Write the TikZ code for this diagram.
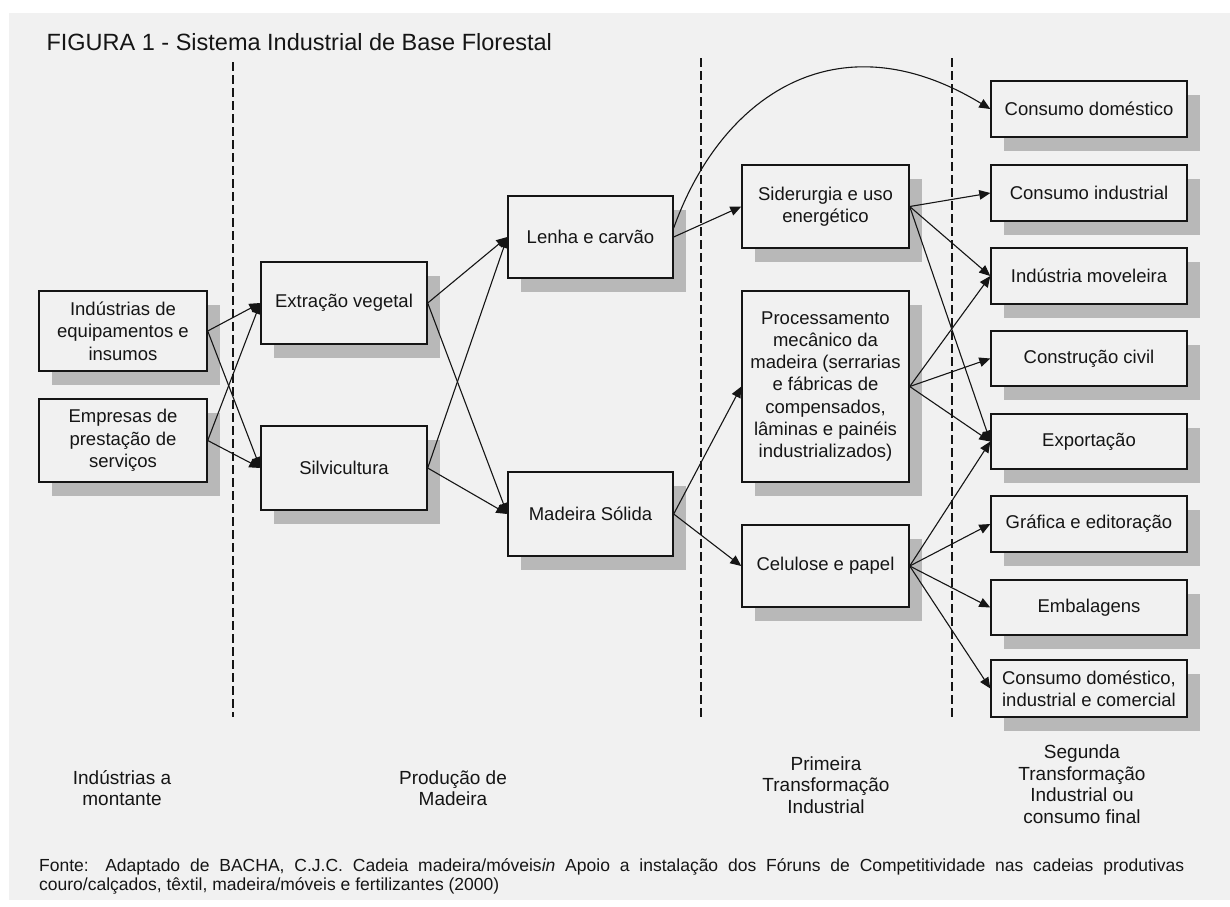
\documentclass[tikz,border=0pt]{standalone}
\usepackage{fontspec}
\setmainfont{Liberation Sans}
\usetikzlibrary{arrows.meta,shadows}
\definecolor{panel}{HTML}{F1F1F1}
\definecolor{shade}{HTML}{B8B8B8}
\definecolor{ink}{HTML}{151515}
\begin{document}
\begin{tikzpicture}[x=1pt,y=-1pt,
  box/.style={draw=ink, fill=panel, line width=1.4pt, align=center, inner sep=0pt,
    text=ink, font=\fontsize{18.5}{22.3}\selectfont,
    drop shadow={shadow xshift=13pt, shadow yshift=-14pt, fill=shade, opacity=1}},
  lbox/.style={box, minimum width=167pt, minimum height=82pt},
  rbox/.style={box, minimum width=196pt, minimum height=56pt},
  arr/.style={draw=ink, line width=1.1pt, -{Triangle[length=11pt,width=9.5pt]}},
  dashline/.style={draw=ink, line width=1.2pt, dash pattern=on 9pt off 4pt},
  lab/.style={align=center, text=ink, font=\fontsize{19}{21.5}\selectfont},
  note/.style={anchor=base west, text=ink, inner sep=0pt, font=\fontsize{17.5}{19}\selectfont}]
\useasboundingbox (0,0) rectangle (1230,906);
\fill[white] (0,0) rectangle (1230,906);
\fill[panel] (9,13) rectangle (1230,900);

\node[anchor=base west, text=ink, font=\fontsize{23.5}{28}\selectfont] (title) at (43,50) {FIGURA 1 - Sistema Industrial de Base Florestal};

% dashed separators
\draw[dashline] (233,62) -- (233,717);
\draw[dashline] (701,58) -- (701,717);
\draw[dashline] (952,58) -- (952,717);

% column 1
\node[lbox, minimum width=168pt, minimum height=80pt] (A) at (123,331) {Indústrias de\\equipamentos e\\insumos};
\node[lbox, minimum width=168pt, minimum height=83pt] (B) at (123,440.5) {Empresas de\\prestação de\\serviços};
% column 2
\node[lbox, minimum width=166pt, minimum height=82pt] (C) at (344,303) {Extração vegetal};
\node[lbox, minimum width=166pt, minimum height=84pt] (D) at (344,468) {Silvicultura};
% column 3
\node[lbox, minimum width=165pt, minimum height=82pt] (E) at (590.5,237) {Lenha e carvão};
\node[lbox, minimum width=165pt, minimum height=84pt] (F) at (590.5,514) {Madeira Sólida};
% column 4
\node[lbox, minimum height=83pt] (G) at (825.5,206.5) {Siderurgia e uso\\energético};
\node[lbox, minimum height=191pt] (H) at (825.5,386.5) {Processamento\\mecânico da\\madeira (serrarias\\e fábricas de\\compensados,\\lâminas e painéis\\industrializados)};
\node[lbox, minimum height=82pt] (I) at (825.5,566) {Celulose e papel};
% column 5
\node[rbox] (J) at (1089,109) {Consumo doméstico};
\node[rbox] (K) at (1089,193) {Consumo industrial};
\node[rbox] (L) at (1089,276) {Indústria moveleira};
\node[rbox, minimum height=55pt] (M) at (1089,358.5) {Construção civil};
\node[rbox, minimum height=55pt] (N) at (1089,441.5) {Exportação};
\node[rbox] (O) at (1089,524) {Gráfica e editoração};
\node[rbox, minimum height=55pt] (P) at (1089,607.5) {Embalagens};
\node[rbox, minimum height=57pt] (Q) at (1089,688.5) {Consumo doméstico,\\industrial e comercial};

% connectors
\draw[arr] (A.east) -- (C.west);
\draw[arr] (A.east) -- (D.west);
\draw[arr] (B.east) -- (C.west);
\draw[arr] (B.east) -- (D.west);
\draw[arr] (C.east) -- (E.west);
\draw[arr] (C.east) -- (F.west);
\draw[arr] (D.east) -- (E.west);
\draw[arr] (D.east) -- (F.west);
\draw[arr] (E.east) -- (G.west);
\draw[arr] ([yshift=9pt]E.east) .. controls (721,96) and (837,16) .. (J.west);
\draw[arr] (F.east) -- (H.west);
\draw[arr] (F.east) -- (I.west);
\draw[arr] (G.east) -- (K.west);
\draw[arr] (G.east) -- (L.west);
\draw[arr] (G.east) -- (N.west);
\draw[arr] (H.east) -- (L.west);
\draw[arr] (H.east) -- (M.west);
\draw[arr] (H.east) -- (N.west);
\draw[arr] (I.east) -- (N.west);
\draw[arr] (I.east) -- (O.west);
\draw[arr] (I.east) -- (P.west);
\draw[arr] (I.east) -- (Q.west);

% column labels
\node[lab] (l1) at (122,788) {Indústrias a\\montante};
\node[lab] (l2) at (453,788) {Produção de\\Madeira};
\node[lab] (l3) at (826,785) {Primeira\\Transformação\\Industrial};
\node[lab] (l4) at (1082,784) {Segunda\\Transformação\\Industrial ou\\consumo final};

% source
\node[note] (f1) at (39,871) {\makebox[1145pt][s]{Fonte: Adaptado de BACHA, C.J.C. Cadeia madeira/móveis\textit{in} Apoio a instalação dos Fóruns de Competitividade nas cadeias produtivas}};
\node[note] (f2) at (39,890) {couro/calçados, têxtil, madeira/móveis e fertilizantes (2000)};
\end{tikzpicture}
\end{document}
